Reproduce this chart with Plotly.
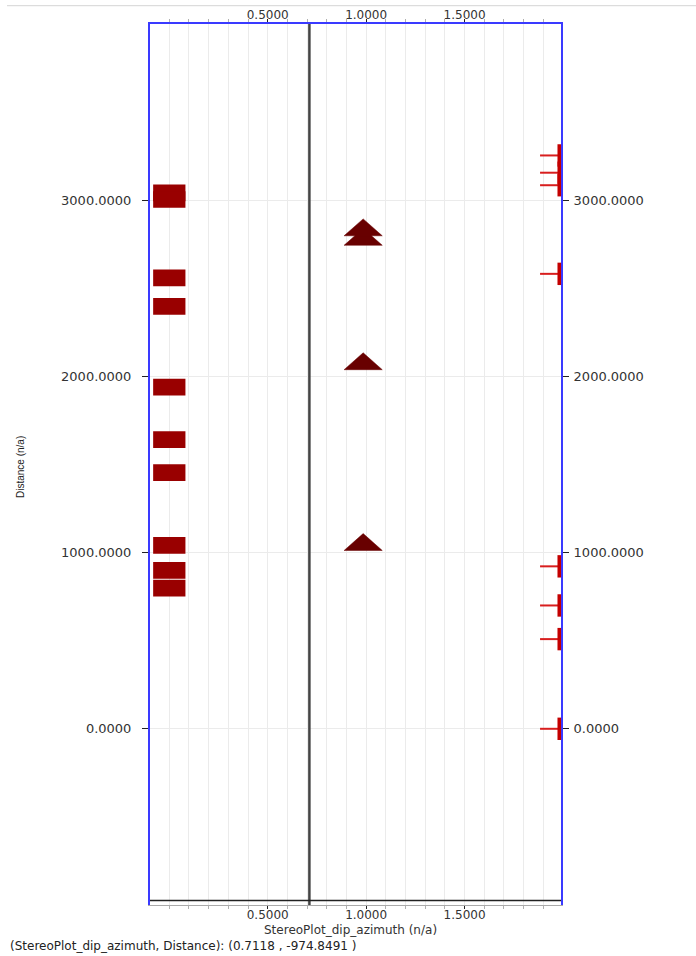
import plotly.graph_objects as go

# ---------------- data ----------------
block_depth = [3042, 3004, 2559, 2398, 1939, 1641, 1454, 1041, 899, 799]
block_x = [0.0] * len(block_depth)

tri_depth = [2846, 2792, 2086, 1060]
tri_x = [0.985, 0.985, 0.985, 0.985]

tick_depth = [3254, 3156, 3085, 2582, 922, 700, 509, 0]

x_tickvals = [0.5, 1.0, 1.5]
y_tickvals = [0, 1000, 2000, 3000]

cursor_x = 0.7118
cursor_y = -974.8491

x_title = "StereoPlot_dip_azimuth (n/a)"
y_title = "Distance (n/a)"
readout = "(StereoPlot_dip_azimuth, Distance): (0.7118 , -974.8491 )"

# ---------------- style ----------------
X_RANGE = [-0.098, 1.99]
Y_RANGE = [-1000, 4000]
BLUE = "#3a3aff"
GRID = "#ebebeb"
TXT = "#333333"
FONT = "DejaVu Sans"
BLOCK_HALF_W = 0.082
BLOCK_H = 95
TRI_HALF_W = 0.097
TRI_HALF_H = 48
GLYPH_BAR_X = 1.981
GLYPH_STEM_X = 1.944

fig = go.Figure()

# rectangles (horizontal bars)
fig.add_trace(go.Bar(
    orientation="h",
    y=block_depth,
    x=[2 * BLOCK_HALF_W] * len(block_depth),
    base=[bx - BLOCK_HALF_W for bx in block_x],
    width=BLOCK_H,
    marker=dict(color="#990000", line=dict(width=0)),
    showlegend=False, hoverinfo="skip",
))

# triangles
tx, ty = [], []
for x0, d in zip(tri_x, tri_depth):
    tx += [x0 - TRI_HALF_W, x0, x0 + TRI_HALF_W, x0 - TRI_HALF_W, None]
    ty += [d - TRI_HALF_H, d + TRI_HALF_H, d - TRI_HALF_H, d - TRI_HALF_H, None]
fig.add_trace(go.Scatter(
    x=tx, y=ty, mode="lines", fill="toself", fillcolor="#680000",
    line=dict(color="#680000", width=0.5), showlegend=False, hoverinfo="skip",
))

# right-edge tick glyphs
fig.add_trace(go.Scatter(
    x=[GLYPH_STEM_X] * len(tick_depth), y=tick_depth, mode="markers",
    marker=dict(symbol="line-ew", size=17, line=dict(color="#d81e1e", width=2)),
    showlegend=False, hoverinfo="skip",
))
fig.add_trace(go.Scatter(
    x=[GLYPH_BAR_X] * len(tick_depth), y=tick_depth, mode="markers",
    marker=dict(symbol="line-ns", size=16, line=dict(color="#c40000", width=3.5)),
    showlegend=False, hoverinfo="skip",
))

# dummy trace for top / right axes
fig.add_trace(go.Scatter(x=[None], y=[None], xaxis="x2", yaxis="y2",
                         showlegend=False, hoverinfo="skip"))

# cursor crosshair
fig.add_shape(type="line", xref="x", yref="paper", x0=cursor_x, x1=cursor_x,
              y0=0, y1=1, line=dict(color="#444444", width=2.5))
fig.add_shape(type="line", xref="paper", yref="y", x0=0, x1=1,
              y0=cursor_y, y1=cursor_y, line=dict(color="#222222", width=1.5))
# window frame line at top
fig.add_shape(type="line", xref="paper", yref="paper",
              x0=(7 - 150) / 411, x1=(696 - 150) / 411,
              y0=1 + 18.3 / 881, y1=1 + 18.3 / 881,
              line=dict(color="#d4d4d4", width=1))

xfont = dict(family=FONT, size=12, color=TXT)
yfont = dict(family=FONT, size=13, color=TXT)
minor = dict(tick0=0, dtick=0.1, ticks="outside", ticklen=3,
             tickcolor="#b0b0b0", showgrid=True, gridcolor=GRID, gridwidth=1)

fig.update_layout(
    width=696, height=956,
    margin=dict(l=150, r=135, t=24, b=51, autoexpand=False),
    paper_bgcolor="white", plot_bgcolor="white",
    barmode="overlay",
    xaxis=dict(range=X_RANGE, tickmode="array", tickvals=x_tickvals,
               tickformat=".4f", ticks="outside", ticklen=3, tickcolor="#222",
               tickfont=xfont, showline=True, linecolor="#aaaaaa", linewidth=1,
               showgrid=True, gridcolor=GRID, zeroline=False, minor=minor,
               automargin=False, ticklabelstandoff=-4),
    xaxis2=dict(range=X_RANGE, overlaying="x", side="top", matches="x",
                tickmode="array", tickvals=x_tickvals, tickformat=".4f",
                ticks="outside", ticklen=3, tickcolor="#222", tickfont=xfont,
                showline=True, linecolor=BLUE, linewidth=2, showgrid=False,
                zeroline=False, automargin=False,
                minor=dict(tick0=0, dtick=0.1, ticks="outside", ticklen=3,
                           tickcolor="#b0b0b0", showgrid=False),
                ticklabelstandoff=-5),
    yaxis=dict(range=Y_RANGE, tickmode="array", tickvals=y_tickvals,
               tickformat=".4f", ticks="outside", ticklen=6, tickcolor="#222",
               tickfont=yfont, showline=True, linecolor=BLUE, linewidth=2,
               showgrid=True, gridcolor=GRID, zeroline=False,
               automargin=False, ticklabelstandoff=8),
    yaxis2=dict(range=Y_RANGE, overlaying="y", side="right", matches="y",
                tickmode="array", tickvals=y_tickvals, tickformat=".4f",
                ticks="outside", ticklen=6, tickcolor="#222", tickfont=yfont,
                showline=True, linecolor=BLUE, linewidth=2, showgrid=False,
                zeroline=False, automargin=False, ticklabelstandoff=2),
    annotations=[
        dict(text=x_title, xref="paper", yref="paper", x=(350 - 150) / 411,
             y=-(930 - 905) / 881, xanchor="center", yanchor="middle",
             showarrow=False, font=dict(family=FONT, size=12, color=TXT)),
        dict(text=readout, xref="paper", yref="paper", x=(8 - 150) / 411,
             y=-(946 - 905) / 881, xanchor="left", yanchor="middle",
             showarrow=False, font=dict(family=FONT, size=12, color="#222")),
        dict(text=y_title, xref="paper", yref="paper", x=(20 - 150) / 411,
             y=(905 - 467) / 881, xanchor="center", yanchor="middle",
             textangle=-90, showarrow=False,
             font=dict(family="Liberation Sans Narrow, Liberation Sans", size=10,
                       color="#222")),
    ],
)

fig.write_html("out.html", config={"displayModeBar": False},
               post_script="document.body.style.margin='0';")
